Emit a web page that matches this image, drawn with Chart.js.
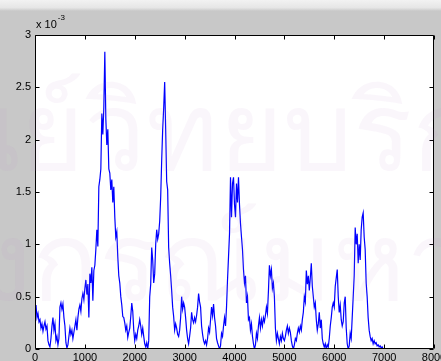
<!DOCTYPE html>
<html>
<head>
<meta charset="utf-8">
<script src="https://cdn.jsdelivr.net/npm/chart.js@4.4.0/dist/chart.umd.min.js"></script>
<style>
  html, body { margin: 0; padding: 0; background: #c8c8c8; overflow: hidden; }
  #wrap { width: 441px; height: 361px; position: relative; }
</style>
</head>
<body>
<div id="wrap"><canvas id="c" width="441" height="361"></canvas></div>
<script>
// Sample spacing along the x axis
const sampleStep = 20;

// Signal amplitude, in units of 1e-3, one value per sample
const signal = [
  0.38, 0.42, 0.30, 0.34, 0.26,  0.28, 0.20, 0.24, 0.17, 0.22,
  0.26, 0.19, 0.22, 0.08, 0.04,  0.02, 0.10, 0.22, 0.30, 0.18,
  0.24, 0.08, 0.12, 0.04, 0.10,  0.40, 0.44, 0.38, 0.43, 0.30,
  0.22, 0.06, 0.01, 0.04, 0.12,  0.20, 0.14, 0.18, 0.10, 0.16,
  0.22, 0.28, 0.18, 0.30, 0.38,  0.42, 0.36, 0.48, 0.53, 0.47,
  0.58, 0.66, 0.52, 0.62, 0.30,  0.72, 0.63, 0.78, 0.46, 0.75,
  0.80, 0.95, 1.14, 0.98, 1.55,  1.62, 1.72, 2.25, 2.05, 2.31,
  2.84, 2.20, 1.95, 2.10, 1.72,  1.68, 1.52, 1.62, 1.40, 1.55,
  1.26, 1.07, 1.12, 0.88, 0.70,  0.63, 0.50, 0.42, 0.31, 0.30,
  0.25, 0.18, 0.22, 0.11, 0.16,  0.20, 0.31, 0.44, 0.36, 0.18,
  0.08, 0.14, 0.10, 0.18, 0.22,  0.28, 0.22, 0.14, 0.20, 0.12,
  0.05, 0.02, 0.06, 0.00, 0.08,  0.50, 0.62, 0.97, 0.85, 0.63,
  0.72, 1.00, 1.14, 1.05, 1.10,  1.22, 1.45, 1.80, 2.10, 2.30,
  2.55, 2.10, 1.60, 1.52, 0.97,  0.82, 0.70, 0.56, 0.40, 0.31,
  0.18, 0.24, 0.20, 0.14, 0.12,  0.18, 0.30, 0.50, 0.38, 0.44,
  0.40, 0.30, 0.18, 0.10, 0.05,  0.12, 0.20, 0.35, 0.28, 0.25,
  0.30, 0.26, 0.32, 0.40, 0.53,  0.45, 0.40, 0.22, 0.14, 0.08,
  0.05, 0.08, 0.04, 0.10, 0.20,  0.16, 0.28, 0.40, 0.32, 0.43,
  0.30, 0.22, 0.10, 0.06, 0.03,  0.00, 0.03, 0.15, 0.12, 0.22,
  0.30, 0.22, 0.40, 0.66, 0.88,  1.10, 1.64, 1.26, 1.58, 1.64,
  1.38, 1.26, 1.58, 1.40, 1.64,  1.38, 1.20, 1.07, 0.95, 0.76,
  0.63, 0.70, 0.44, 0.50, 0.28,  0.30, 0.18, 0.24, 0.12, 0.05,
  0.00, 0.04, 0.15, 0.10, 0.22,  0.30, 0.20, 0.28, 0.22, 0.30,
  0.26, 0.32, 0.40, 0.34, 0.55,  0.80, 0.70, 0.76, 0.58, 0.63,
  0.50, 0.20, 0.08, 0.15, 0.10,  0.05, 0.12, 0.08, 0.15, 0.10,
  0.08, 0.12, 0.18, 0.22, 0.15,  0.20, 0.16, 0.08, 0.03, 0.00,
  0.04, 0.10, 0.08, 0.15, 0.20,  0.16, 0.22, 0.18, 0.28, 0.35,
  0.50, 0.45, 0.75, 0.62, 0.70,  0.56, 0.68, 0.82, 0.60, 0.50,
  0.40, 0.44, 0.28, 0.18, 0.24,  0.35, 0.20, 0.28, 0.10, 0.05,
  0.02, 0.05, 0.00, 0.04, 0.02,  0.10, 0.22, 0.30, 0.40, 0.44,
  0.40, 0.60, 0.68, 0.76, 0.50,  0.35, 0.42, 0.28, 0.22, 0.26,
  0.44, 0.50, 0.20, 0.05, 0.00,  0.03, 0.15, 0.10, 0.30, 0.50,
  0.70, 1.16, 1.00, 1.10, 0.82,  1.00, 0.85, 1.14, 1.26, 1.30,
  1.07, 0.95, 0.63, 0.50, 0.30,  0.18, 0.12, 0.08, 0.10, 0.05,
  0.08, 0.05, 0.06, 0.03, 0.04,  0.02, 0.03, 0.01, 0.02, 0.00,
  0.00
];

// Axis tick values
const xTicks = [0, 1000, 2000, 3000, 4000, 5000, 6000, 7000, 8000];
const yTicks = [0, 0.5, 1, 1.5, 2, 2.5, 3];

// Exponent shown above the y axis
const exponentBase = 'x 10';
const exponentPower = '-3';

// Background text lines
const backdropLines = ['ศูนย์วิทยบริการ', 'จุฬาลงกรณ์มหาวิทยาลัย'];

const points = signal.map((v, i) => ({ x: i * sampleStep, y: v }));

const FONT = "'Liberation Sans', Arial, Helvetica, sans-serif";

const framePlugin = {
  id: 'frame',
  beforeDraw(chart) {
    const { ctx, chartArea: a } = chart;
    ctx.save();
    ctx.fillStyle = '#c8c8c8';
    ctx.fillRect(0, 0, chart.width, chart.height);
    const g = ctx.createLinearGradient(0, 0, 0, 11);
    g.addColorStop(0, '#f2f2f2');
    g.addColorStop(0.7, '#e6e6e6');
    g.addColorStop(1, '#c8c8c8');
    ctx.fillStyle = g;
    ctx.fillRect(0, 0, chart.width, 11);
    ctx.fillStyle = '#ffffff';
    ctx.fillRect(a.left, a.top, a.right - a.left, a.bottom - a.top);
    ctx.restore();
  },
  afterDatasetsDraw(chart) {
    const { ctx, chartArea: a, scales } = chart;
    const L = Math.round(a.left) + 0.5, R = Math.round(a.right) - 0.5;
    const T = Math.round(a.top) + 0.5, B = Math.round(a.bottom) - 0.5;
    const len = 4;
    ctx.save();
    ctx.strokeStyle = '#000000';
    ctx.lineWidth = 1;
    ctx.beginPath();
    ctx.rect(L, T, R - L, B - T);
    xTicks.forEach(v => {
      const px = Math.round(scales.x.getPixelForValue(v)) + 0.5;
      ctx.moveTo(px, B); ctx.lineTo(px, B - len);
      ctx.moveTo(px, T); ctx.lineTo(px, T + len);
    });
    yTicks.forEach(v => {
      const py = Math.round(scales.y.getPixelForValue(v)) + 0.5;
      ctx.moveTo(L, py); ctx.lineTo(L + len, py);
      ctx.moveTo(R, py); ctx.lineTo(R - len, py);
    });
    ctx.stroke();

    ctx.fillStyle = '#000000';
    ctx.textBaseline = 'alphabetic';
    ctx.textAlign = 'left';
    ctx.font = '11px ' + FONT;
    ctx.fillText(exponentBase, a.left + 1, a.top - 7);
    const w = ctx.measureText(exponentBase).width;
    ctx.font = '8px ' + FONT;
    ctx.fillText(exponentPower, a.left + 1 + w + 1, a.top - 15);
    ctx.restore();
  },
  afterDraw(chart) {
    const { ctx } = chart;
    ctx.save();
    ctx.fillStyle = 'rgba(190, 130, 200, 0.075)';
    ctx.textBaseline = 'alphabetic';
    ctx.font = '110px sans-serif';
    ctx.textAlign = 'left';
    ctx.fillText(backdropLines[0], -125, 170);
    ctx.fillText(backdropLines[1], -290, 300);
    ctx.restore();
  }
};

new Chart(document.getElementById('c'), {
  type: 'line',
  data: {
    datasets: [{
      data: points,
      borderColor: '#0000ff',
      borderWidth: 1.2,
      pointRadius: 0,
      tension: 0,
      fill: false
    }]
  },
  options: {
    responsive: false,
    animation: false,
    events: [],
    layout: { padding: { top: 35, right: 7, left: 0, bottom: 0 } },
    plugins: { legend: { display: false }, tooltip: { enabled: false } },
    scales: {
      x: {
        type: 'linear', min: 0, max: 8000,
        grid: { display: false, drawTicks: false }, border: { display: false },
        afterBuildTicks: s => { s.ticks = xTicks.map(v => ({ value: v })); },
        afterFit: s => { s.height = 12; s.paddingLeft = 0; s.paddingRight = 0; },
        ticks: { padding: 2, color: '#000', maxRotation: 0, autoSkip: false,
                 font: { family: FONT, size: 11 }, callback: v => String(v) }
      },
      y: {
        type: 'linear', min: 0, max: 3,
        grid: { display: false, drawTicks: false }, border: { display: false },
        afterBuildTicks: s => { s.ticks = yTicks.map(v => ({ value: v })); },
        afterFit: s => { s.width = 35; s.paddingTop = 0; s.paddingBottom = 0; },
        ticks: { padding: 4, color: '#000', autoSkip: false,
                 font: { family: FONT, size: 11 }, callback: v => String(v) }
      }
    }
  },
  plugins: [framePlugin]
});
</script>
</body>
</html>
